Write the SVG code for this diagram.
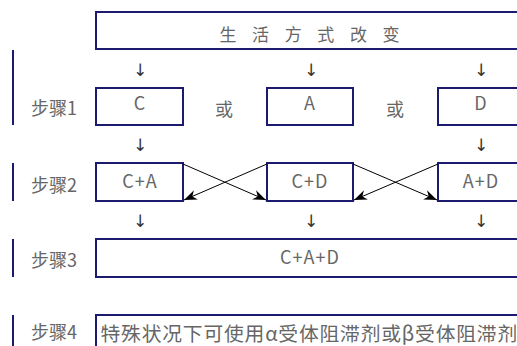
<svg xmlns="http://www.w3.org/2000/svg" width="517" height="346" viewBox="0 0 517 346">
<defs>
<style>
.box{fill:#fff;stroke:#1c1a6e;stroke-width:2}
.bar{stroke:#1c1a6e;stroke-width:2}
.t{font-family:"Noto Sans CJK SC","Liberation Sans",sans-serif;fill:#666}
.lat{font-size:18px;text-anchor:middle;letter-spacing:1px}
.step{font-size:18px}
.arr{font-family:"DejaVu Sans",sans-serif;font-size:17px;text-anchor:middle;fill:#333}
.cross{stroke:#000;stroke-width:1;fill:none;marker-end:url(#ah)}
</style>
<marker id="ah" markerUnits="userSpaceOnUse" viewBox="-13 -6 14 12" markerWidth="14" markerHeight="12" refX="0" refY="0" orient="auto">
<path d="M0,0 L-13,-5 L-9,0 L-13,5 Z" fill="#000"/>
</marker>
</defs>
<rect width="517" height="346" fill="#fff"/>
<g id="bars">
<line class="bar" x1="13" y1="50" x2="13" y2="125"/>
<line class="bar" x1="13" y1="163" x2="13" y2="201"/>
<line class="bar" x1="13" y1="239" x2="13" y2="277"/>
<line class="bar" x1="13" y1="315" x2="13" y2="350"/>
</g>
<g id="top">
<rect class="box" x="96" y="12" width="440" height="37"/>
<text class="t" x="219.5" y="40.5" font-size="17" letter-spacing="15.6">生活方式改变</text>
</g>
<g id="labels">
<text class="t step" x="31" y="115">步骤1</text>
<text class="t step" x="31" y="191.5">步骤2</text>
<text class="t step" x="31" y="267">步骤3</text>
<text class="t step" x="31" y="339">步骤4</text>
</g>
<g id="C"><rect class="box" x="96" y="88" width="87" height="37"/><text class="t lat" x="140" y="109.5">C</text></g>
<g id="A"><rect class="box" x="267" y="88" width="86" height="37"/><text class="t lat" x="310" y="109.5">A</text></g>
<g id="D"><rect class="box" x="438" y="88" width="100" height="37"/><text class="t lat" x="481" y="109.5">D</text></g>
<g id="or"><text class="t" x="224" y="116" font-size="18" text-anchor="middle">或</text><text class="t" x="395" y="116" font-size="18" text-anchor="middle">或</text></g>
<g id="CA"><rect class="box" x="96" y="163" width="87" height="38"/><text class="t lat" x="140" y="188">C+A</text></g>
<g id="CD"><rect class="box" x="267" y="163" width="86" height="38"/><text class="t lat" x="310" y="188">C+D</text></g>
<g id="AD"><rect class="box" x="438" y="163" width="100" height="38"/><text class="t lat" x="481" y="188">A+D</text></g>
<g id="CAD"><rect class="box" x="96" y="239" width="440" height="38"/><text class="t lat" x="310" y="263.5">C+A+D</text></g>
<g id="step4"><rect class="box" x="96" y="315" width="440" height="40"/><text class="t" x="100.5" y="341" font-size="19.8" letter-spacing="0.8">特殊状况下可使用α受体阻滞剂或β受体阻滞剂</text></g>
<g id="connectors">
<text class="arr" x="140" y="76">↓</text>
<text class="arr" x="311" y="76">↓</text>
<text class="arr" x="481" y="76">↓</text>
<text class="arr" x="140" y="151">↓</text>
<text class="arr" x="481" y="151">↓</text>
<text class="arr" x="140" y="227">↓</text>
<text class="arr" x="311" y="227">↓</text>
<text class="arr" x="481" y="227">↓</text>
<line class="cross" x1="183" y1="164" x2="266" y2="200"/>
<line class="cross" x1="267" y1="164" x2="184" y2="200"/>
<line class="cross" x1="353" y1="164" x2="437" y2="200"/>
<line class="cross" x1="438" y1="164" x2="354" y2="200"/>
</g>
</svg>
